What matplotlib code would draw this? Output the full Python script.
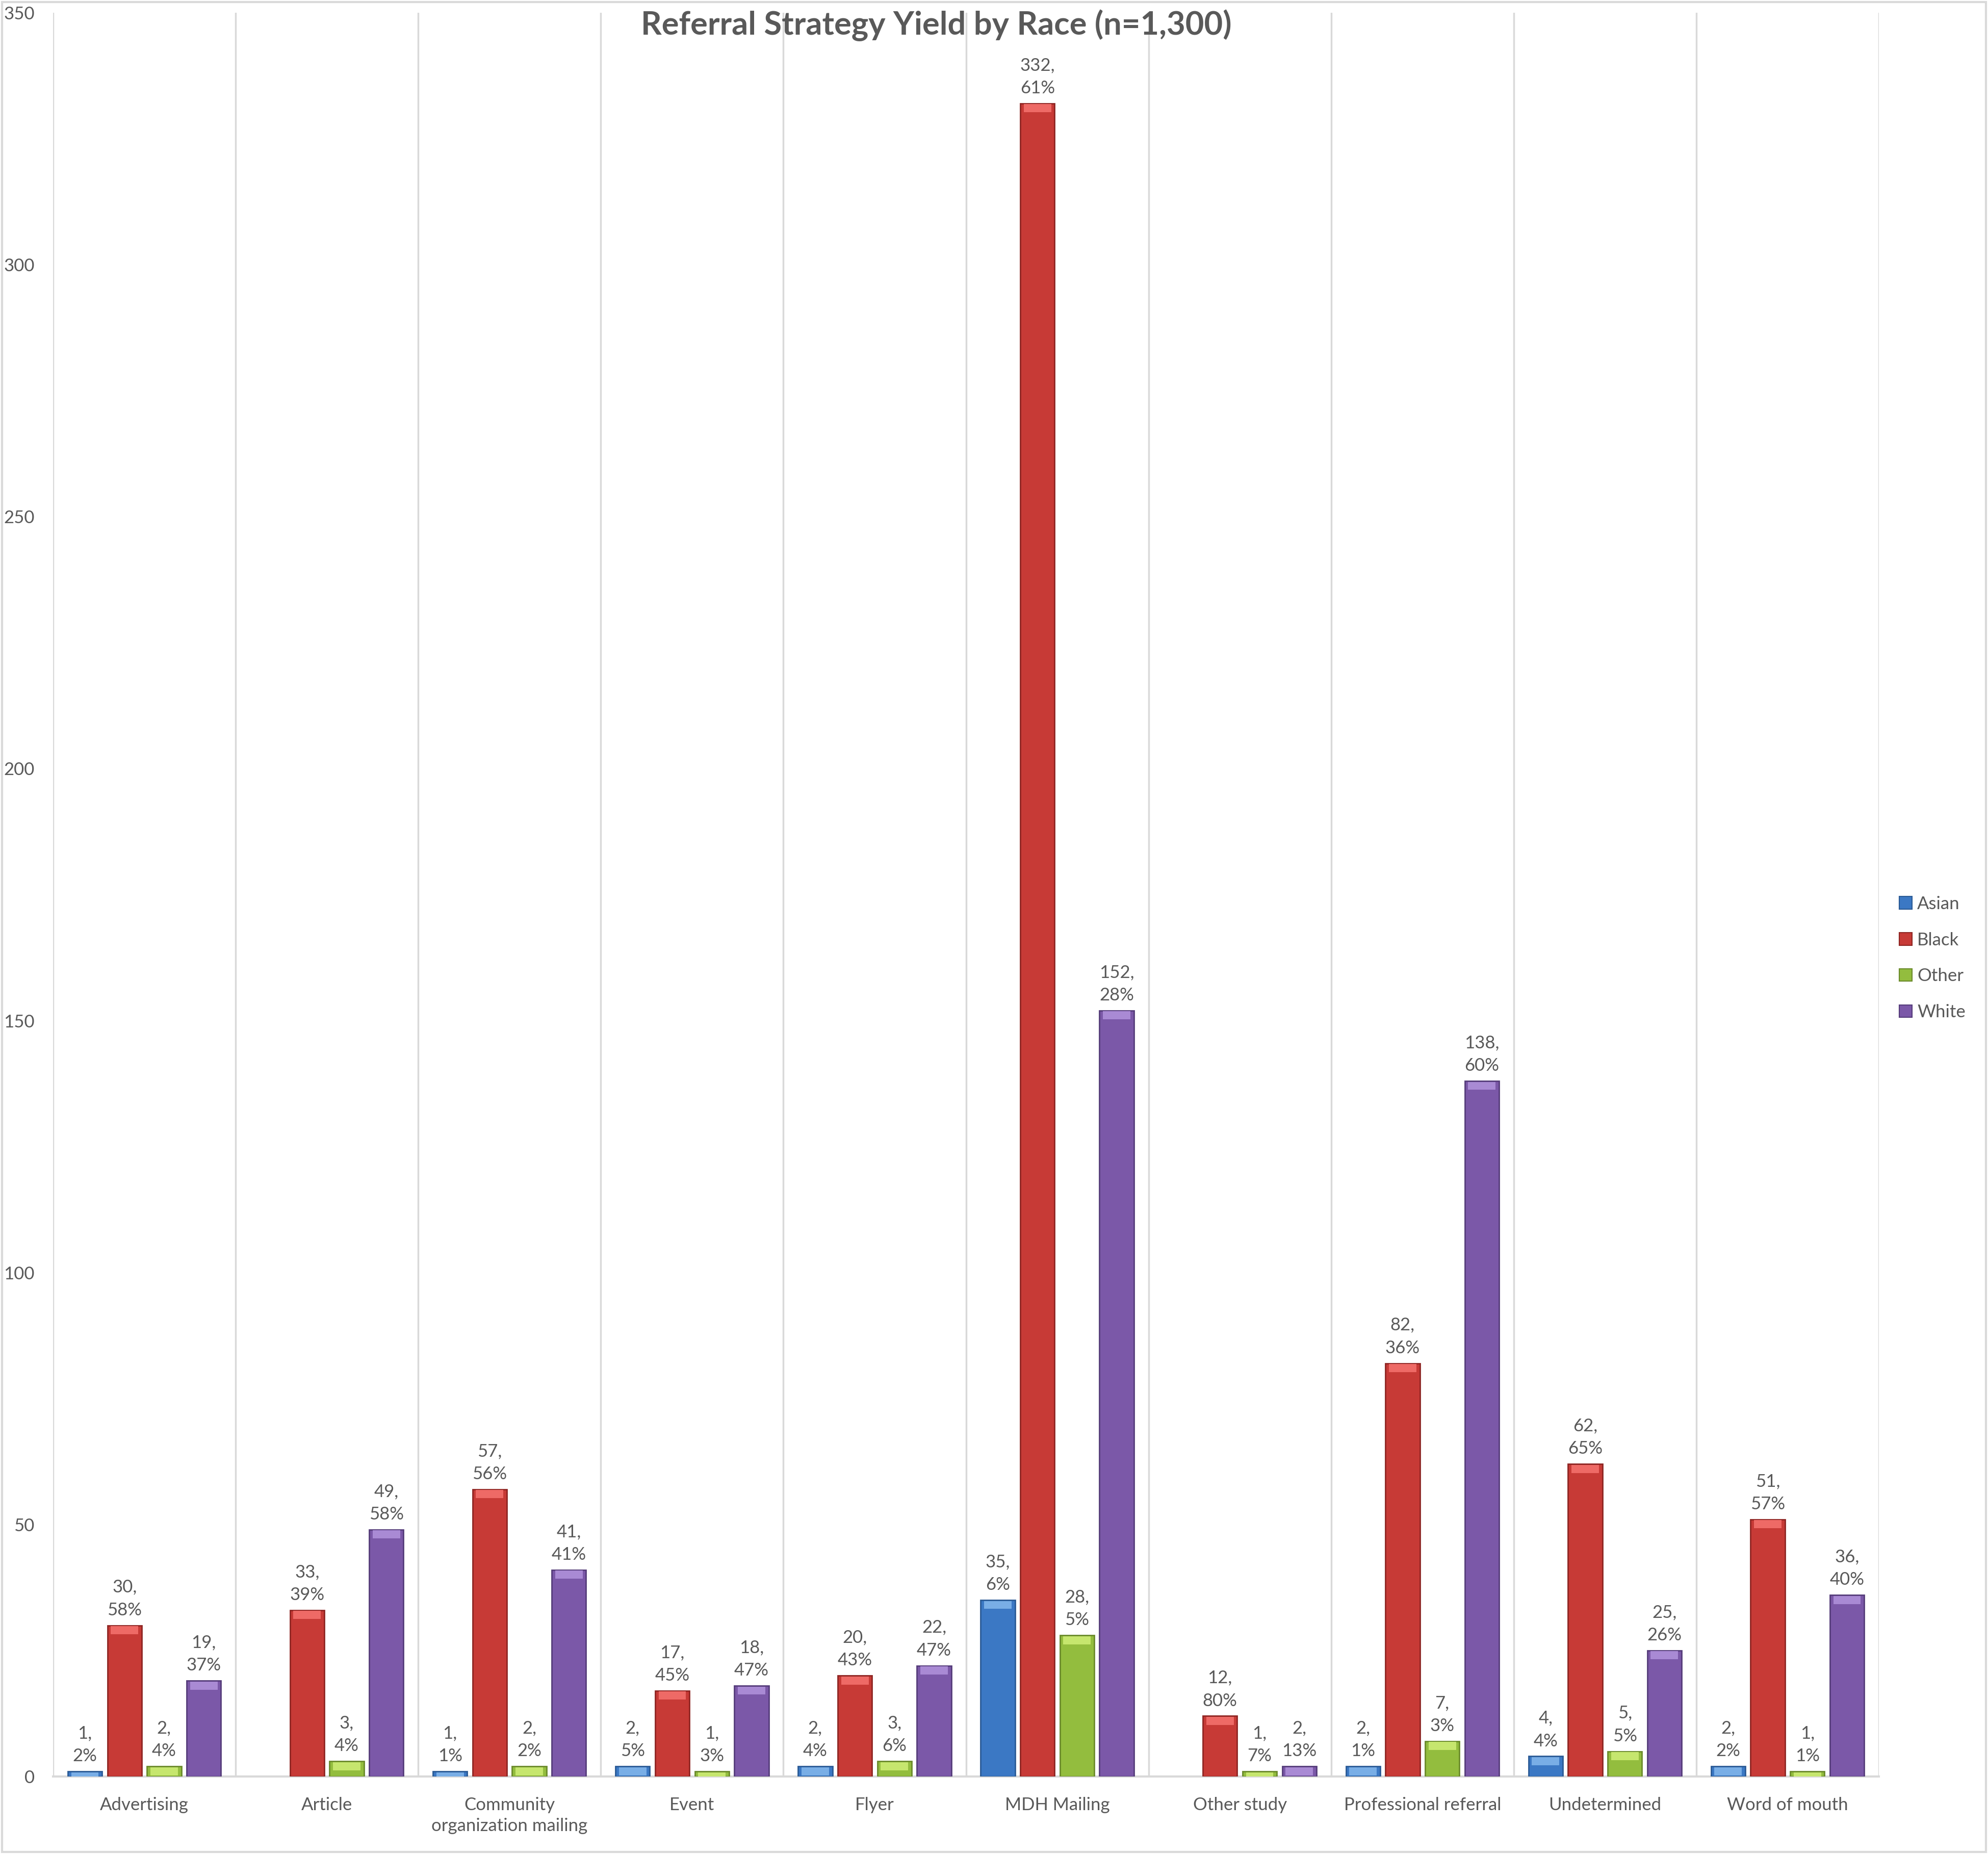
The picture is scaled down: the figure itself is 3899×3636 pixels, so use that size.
# coding=utf-8
# Referral strategy yield by race, grouped bar chart
import numpy as np
import matplotlib
matplotlib.use("Agg")
import matplotlib.pyplot as plt
import matplotlib.patches as mpatches

categories = ["Advertising", "Article", "Community\norganization mailing", "Event",
              "Flyer", "MDH Mailing", "Other study", "Professional referral",
              "Undetermined", "Word of mouth"]
races = ["Asian", "Black", "Other", "White"]

asian = [1, np.nan, 1, 2, 2, 35, np.nan, 2, 4, 2]
black = [30, 33, 57, 17, 20, 332, 12, 82, 62, 51]
other = [2, 3, 2, 1, 3, 28, 1, 7, 5, 1]
white = [19, 49, 41, 18, 22, 152, 2, 138, 25, 36]

asian_pct = [2, None, 1, 5, 4, 6, None, 1, 4, 2]
black_pct = [58, 39, 56, 45, 43, 61, 80, 36, 65, 57]
other_pct = [4, 4, 2, 3, 6, 5, 7, 3, 5, 1]
white_pct = [37, 58, 41, 47, 47, 28, 13, 60, 26, 40]

y_ticks = [0, 50, 100, 150, 200, 250, 300, 350]

colors = ["#3b78c4", "#c73a36", "#93bd3e", "#7b58a8"]
edge_colors = ["#2a5a95", "#8e2522", "#6a8a2a", "#553c7a"]
cap_colors = ["#79aee6", "#ee6a66", "#c6e66e", "#a98ad4"]

text_color = "#595959"
grid_color = "#d9d9d9"

plt.rcParams["font.family"] = ["Lato", "DejaVu Sans"]

fig = plt.figure(figsize=(38.99, 36.36), dpi=100)
ax = fig.add_axes([104 / 3899, 1 - 3484 / 3636, (3685 - 104) / 3899, (3484 - 25) / 3636])

x = np.arange(len(categories))
step = 0.217
width = 0.188
series = [asian, black, other, white]
pcts = [asian_pct, black_pct, other_pct, white_pct]

handles = []
for i in range(len(races)):
    pos = x + (i - 1.5) * step
    vals = np.array(series[i], dtype=float)
    ax.bar(pos, vals, width, color=colors[i], edgecolor=edge_colors[i],
           linewidth=2, label=races[i], zorder=3)
    # lighter bevel on top of each bar
    cap = np.minimum(np.nan_to_num(vals), 1.6)
    ax.bar(pos, cap, width * 0.8, bottom=np.nan_to_num(vals) - cap - 0.15,
           color=cap_colors[i], linewidth=0, zorder=4)
    handles.append(mpatches.Patch(facecolor=colors[i], edgecolor=edge_colors[i],
                                  linewidth=1.5))
    for j in range(len(categories)):
        if np.isnan(vals[j]):
            continue
        ax.annotate("%d,\n%d%%" % (vals[j], pcts[i][j]), (pos[j], vals[j]),
                    xytext=(0, 10), textcoords="offset points", ha="center",
                    va="bottom", fontsize=25, color=text_color, linespacing=1.5)

ax.set_xlim(-0.5, len(categories) - 0.5)
ax.set_ylim(0, 350)
ax.set_yticks(y_ticks)
ax.set_yticklabels([str(v) for v in y_ticks], fontsize=25, color=text_color)
ax.set_xticks(x)
ax.set_xticklabels(categories, fontsize=25, color=text_color, linespacing=1.35)
ax.tick_params(axis="both", length=0)
ax.tick_params(axis="x", pad=29)
ax.tick_params(axis="y", pad=26)

# category separators
ax.set_xticks(np.arange(-0.5, len(categories)), minor=True)
ax.tick_params(axis="x", which="minor", length=0)
ax.grid(axis="x", which="minor", color=grid_color, linewidth=2.5, zorder=0)
ax.grid(axis="x", which="major", visible=False)

for s in ["top", "right", "left"]:
    ax.spines[s].set_visible(False)
ax.spines["bottom"].set_color(grid_color)
ax.spines["bottom"].set_linewidth(3)

fig.text(1836 / 3899, 1 - 50 / 3636, "Referral Strategy Yield by Race (n=1,300)",
         ha="center", va="center", fontsize=45.5, fontweight="bold", color=text_color)

leg = fig.legend(handles, races, loc="center left",
                 bbox_to_anchor=(3708 / 3899, 1 - 1879 / 3636),
                 frameon=False, fontsize=25, handlelength=0.7, handleheight=0.7,
                 handletextpad=0.3, labelspacing=1.12, borderpad=0)
for t in leg.get_texts():
    t.set_color(text_color)

fig.patches.append(mpatches.Rectangle((0.001, 0.001), 0.998, 0.998,
                                      transform=fig.transFigure, fill=False,
                                      edgecolor=grid_color, linewidth=3))

fig.savefig("out.png", dpi=100)
